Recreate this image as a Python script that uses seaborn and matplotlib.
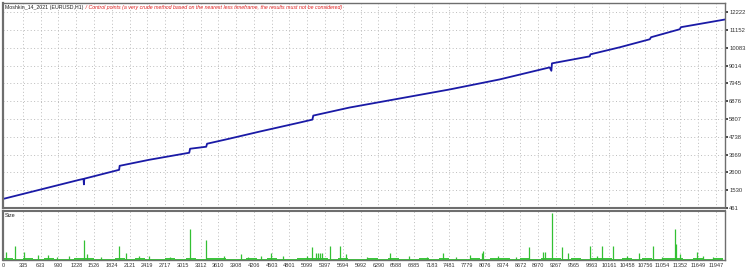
import matplotlib
matplotlib.use("Agg")
import matplotlib.pyplot as plt
import seaborn as sns
import pandas as pd

# ---------------- data ----------------
eq_trades = [0, 604, 1275, 1350, 1356, 1362, 1946, 1955, 2450, 3121, 3135, 3406, 3420,
             3792, 4296, 4967, 5185, 5200, 5806, 6645, 7484, 8323, 9162, 9190, 9200,
             9833, 9845, 10336, 10840, 10860, 11343, 11360, 12100]
eq_values = [1004, 1547, 2150, 2210, 1880, 2220, 2753, 2994, 3356, 3778, 4019, 4140, 4321,
             4622, 5045, 5587, 5768, 6010, 6492, 7035, 7578, 8181, 8904, 8700, 9146,
             9567, 9688, 10111, 10593, 10714, 11196, 11317, 11780]

spike_trades = [50, 196, 352, 587, 755, 1107, 1359, 1410, 1946, 2064, 2450, 3133,
                3406, 3708, 3994, 4329, 4497, 5101, 5185, 5252, 5286, 5319, 5353,
                5487, 5655, 5756, 6494, 7366, 7819, 8021, 8040, 8810, 9045, 9080,
                9195, 9363, 9464, 9833, 9951, 10034, 10219, 10655, 10890, 11259,
                11276, 11343, 11629, 11729,
                900, 1650, 2280, 2800, 4100, 4700, 6100, 6800, 7100, 7600, 8300,
                8600, 10450, 11050, 11900]
spike_sizes = [8, 13, 8, 5, 5, 4, 19, 6, 13, 7, 4, 30,
               19, 4, 6, 4, 7, 4, 12, 7, 7, 7, 7,
               13, 13, 6, 7, 7, 5, 7, 9, 12, 8, 8,
               45, 12, 7, 13, 4, 13, 13, 7, 13, 30,
               15, 6, 8, 4,
               3, 3, 4, 3, 3, 4, 3, 4, 3, 3, 4,
               3, 4, 3, 3]

base_trades = [0, 170, 340, 510, 680, 850, 1020, 1190, 1360, 1530, 1700, 1870,
               2040, 2210, 2380, 2550, 2720, 2890, 3060, 3230, 3400, 3570, 3740,
               3910, 4080, 4250, 4420, 4590, 4760, 4930, 5100, 5270, 5440, 5610,
               5780, 5950, 6120, 6290, 6460, 6630, 6800, 6970, 7140, 7310, 7480,
               7650, 7820, 7990, 8160, 8330, 8500, 8670, 8840, 9010, 9180, 9350,
               9520, 9690, 9860, 10030, 10200, 10370, 10540, 10710, 10880, 11050,
               11220, 11390, 11560, 11730, 11900, 12070]
base_sizes = [2, 1, 2, 1, 2, 1, 1, 2, 2, 1, 1, 2,
              1, 2, 1, 1, 2, 1, 2, 1, 2, 2, 1,
              1, 2, 1, 2, 1, 1, 2, 2, 2, 1, 2,
              1, 1, 2, 1, 2, 1, 1, 2, 1, 2, 1,
              1, 2, 1, 2, 2, 1, 2, 1, 2, 2, 1,
              2, 1, 2, 2, 1, 2, 1, 2, 1, 2,
              2, 1, 2, 1, 2, 1]

x_ticks = [0, 335, 633, 930, 1228, 1526, 1824, 2121, 2419, 2717, 3015, 3312, 3610,
           3908, 4206, 4503, 4801, 5099, 5397, 5694, 5992, 6290, 6588, 6885, 7183,
           7481, 7779, 8076, 8374, 8672, 8970, 9267, 9565, 9863, 10161, 10458,
           10756, 11054, 11352, 11649, 11947]
y_ticks = [461, 1530, 2600, 3669, 4738, 5807, 6876, 7945, 9014, 10083, 11152, 12222]

title_black = "Moshkin_14_2021 (EURUSD,H1)"
title_red = " / Control points (a very crude method based on the nearest less timeframe, the results must not be considered)"

# ---------------- plot ----------------
sns.set_theme(style="white")
plt.rcParams['font.family'] = ['Liberation Sans', 'DejaVu Sans']

fig = plt.figure(figsize=(7.5, 2.7), dpi=100)
W, H = 750, 270
def box(l, t, r, b):
    return [l / W, 1 - b / H, (r - l) / W, (b - t) / H]

ax = fig.add_axes(box(3, 3, 725, 208))
axs = fig.add_axes(box(3, 211, 725, 260), sharex=ax)

df = pd.DataFrame({"trade": eq_trades, "equity": eq_values})
sns.lineplot(data=df, x="trade", y="equity", ax=ax, color="#1a1aa6",
             linewidth=1.3, sort=False, estimator=None)

xmin, xmax = 0, 12100
ax.set_xlim(xmin, xmax)
ax.set_ylim(461, 12770)
ax.set_xlabel("")
ax.set_ylabel("")
ax.yaxis.tick_right()
ax.set_yticks(y_ticks)
ax.set_yticklabels([str(v) for v in y_ticks])
ax.tick_params(axis="y", labelsize=4.2, length=2, pad=1, colors="#333333",
               right=True, direction="out")
ax.tick_params(axis="x", bottom=False, labelbottom=False)
ax.set_xticks(x_ticks)
ax.grid(True, color="#bcbcbc", linestyle=(0, (1, 2.5)), linewidth=0.7)

# size panel
axs.fill_between(base_trades, 0, base_sizes, step="post", color="#3cc83c",
                 linewidth=0)
axs.vlines(spike_trades, 0, spike_sizes, color="#33c033", linewidth=0.9)
axs.set_ylim(0, 47)
axs.set_yticks([])
axs.set_xticks(x_ticks)
axs.set_xticklabels([str(v) for v in x_ticks])
axs.tick_params(axis="x", labelsize=4.0, length=0, pad=2, colors="#333333")
axs.grid(True, axis="x", color="#bcbcbc", linestyle=(0, (1, 2.5)), linewidth=0.7)
axs.set_xlim(xmin, xmax)

for a in (ax, axs):
    for s in a.spines.values():
        s.set_color("#6e6e6e")
        s.set_linewidth(1.0)
ax.spines["bottom"].set_linewidth(1.5)
axs.spines["top"].set_linewidth(1.5)
ax.spines["left"].set_linewidth(1.6)
axs.spines["left"].set_linewidth(1.6)

# titles
t1 = ax.text(0.003, 0.992, title_black, transform=ax.transAxes, fontsize=3.8,
             color="#222222", va="top", ha="left")
fig.canvas.draw()
bb = t1.get_window_extent()
inv = ax.transAxes.inverted()
x_end = inv.transform((bb.x1, bb.y1))[0]
ax.text(x_end, 0.992, title_red, transform=ax.transAxes, fontsize=3.8,
        color="#e02020", va="top", ha="left", style="italic")
axs.text(0.003, 0.96, "Size", transform=axs.transAxes, fontsize=4.0,
         color="#222222", va="top", ha="left")

fig.savefig("out.png", dpi=100, facecolor="white")
